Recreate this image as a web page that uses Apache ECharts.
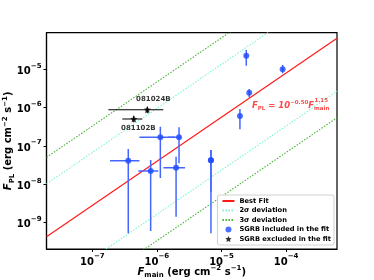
<!DOCTYPE html>
<html><head><meta charset="utf-8">
<script src="https://cdn.jsdelivr.net/npm/echarts@6/dist/echarts.min.js"></script>
<style>html,body{margin:0;padding:0;background:#fff}#c{width:374px;height:280px}</style>
</head><body><div id="c"></div>
<script>
// axis ranges
const xMin = 1.95e-8, xMax = 6.15e-4;
const yMin = 2.06e-10, yMax = 9.0e-5;
// fit: log F_PL = a + b log F_main, with 2σ / 3σ offsets (dex)
const fitA = -0.50, fitB = 1.15;
const off2s = 1.38, off3s = 2.07;

// SGRBs included in the fit
const incX   = [3.6e-7, 8.0e-7, 1.13e-6, 2.2e-6, 1.98e-6, 6.87e-6, 6.87e-6, 2.42e-5, 8.85e-5, 2.69e-5, 1.93e-5];
const incY   = [4.14e-8, 2.23e-8, 1.69e-7, 1.69e-7, 2.71e-8, 4.24e-8, 4.24e-8, 2.25e-5, 1.0e-5, 2.45e-6, 6.05e-7];
const incXLo = [1.88e-7, 5.15e-7, 5.35e-7, 1.49e-6, 1.26e-6, 6.6e-6, 6.7e-6, 2.33e-5, 8.5e-5, 2.6e-5, 1.88e-5];
const incXHi = [5.35e-7, 1.05e-6, 1.9e-6, 2.36e-6, 2.72e-6, 7.15e-6, 7.05e-6, 2.52e-5, 9.2e-5, 2.8e-5, 1.98e-5];
const incYLo = [5.3e-10, 6.1e-10, 1.47e-8, 3.54e-8, 1.43e-9, 5.3e-10, 6.4e-9, 1.23e-5, 7.87e-6, 1.86e-6, 2.72e-7];
const incYHi = [8.35e-8, 4.3e-8, 3.19e-7, 3.08e-7, 5.26e-8, 7.87e-8, 7.87e-8, 3.18e-5, 1.29e-5, 3.06e-6, 9.2e-7];

// SGRBs excluded from the fit
const exNames = ['081024B', '081102B'];
const exX   = [7.1e-7, 4.38e-7];
const exY   = [8.85e-7, 5.06e-7];
const exXLo = [1.77e-7, 2.91e-7];
const exXHi = [1.256e-6, 5.94e-7];
const exYLo = [7.1e-7, 4.15e-7];
const exYHi = [1.06e-6, 6.17e-7];
// label anchor positions (data coords)
const exLabX = [8.8e-7, 5.15e-7];
const exLabY = [1.68e-6, 2.9e-7];
const annX = [2.96e-5, 2.75e-4], annY = [1.1e-6, 1.25e-6];
const annText = ['{i|F}{sub|PL}{i| = 10}{sup|−0.50}{i|F}{sub|main}', '{sup|1.15}'];

const legendNames = ['Best Fit', '2σ deviation', '3σ deviation', 'SGRB included in the fit', 'SGRB excluded in the fit'];

function fitLine(off) {
  const f = x => Math.pow(10, fitA + off) * Math.pow(x, fitB);
  return [[xMin, f(xMin)], [xMax, f(xMax)]];
}
function errData(X, Y, XL, XH, YL, YH) {
  return X.map((x, i) => [x, Y[i], XL[i], XH[i], YL[i], YH[i]]);
}
function errRender(color, w) {
  return function (params, api) {
    const x = api.value(0), y = api.value(1);
    const a = api.coord([api.value(2), y]), b = api.coord([api.value(3), y]);
    const c = api.coord([x, api.value(4)]), d = api.coord([x, api.value(5)]);
    return { type: 'group', children: [
      { type: 'line', shape: { x1: a[0], y1: a[1], x2: b[0], y2: b[1] }, style: { stroke: color, lineWidth: w } },
      { type: 'line', shape: { x1: c[0], y1: c[1], x2: d[0], y2: d[1] }, style: { stroke: color, lineWidth: w } }
    ]};
  };
}
function powLabel(v) {
  const e = Math.log10(v), r = Math.round(e);
  if (Math.abs(e - r) > 0.01) return '';
  return '{b|10}{s|' + (r < 0 ? '−' : '') + Math.abs(r) + '}';
}
const FONT = 'DejaVu Sans';
const tickRich = {
  b: { fontSize: 10, fontWeight: 'bold', fontFamily: FONT, color: '#000', lineHeight: 14, verticalAlign: 'bottom' },
  s: { fontSize: 7, fontWeight: 'bold', fontFamily: FONT, color: '#000', lineHeight: 14, verticalAlign: 'top' }
};
const nameRich = {
  i: { fontSize: 10, fontWeight: 'bold', fontStyle: 'italic', fontFamily: FONT, color: '#000', lineHeight: 14, verticalAlign: 'middle' },
  sub: { fontSize: 7, fontWeight: 'bold', fontFamily: FONT, color: '#000', lineHeight: 14, verticalAlign: 'bottom' },
  sup: { fontSize: 7, fontWeight: 'bold', fontFamily: FONT, color: '#000', lineHeight: 14, verticalAlign: 'top' },
  n: { fontSize: 10, fontWeight: 'bold', fontFamily: FONT, color: '#000', lineHeight: 14, verticalAlign: 'middle' }
};
const RED = '#ff1a1a';
const annRich = {
  i: { fontSize: 8.5, fontWeight: 'bold', fontStyle: 'italic', fontFamily: FONT, color: RED, lineHeight: 12, verticalAlign: 'middle' },
  sub: { fontSize: 5.5, fontWeight: 'bold', fontFamily: FONT, color: RED, lineHeight: 12, verticalAlign: 'bottom' },
  sup: { fontSize: 5.5, fontWeight: 'bold', fontFamily: FONT, color: RED, lineHeight: 12, verticalAlign: 'top' }
};
const star = 'path://M0,-10 L2.9,-4 L9.5,-3.1 L4.7,1.5 L5.9,8.1 L0,5 L-5.9,8.1 L-4.7,1.5 L-9.5,-3.1 L-2.9,-4 Z';

const chart = echarts.init(document.getElementById('c'), null, { renderer: 'canvas' });
const dotted = (name, color, off) => ({
  name, type: 'line', data: fitLine(off), symbol: 'none', clip: true, silent: true,
  lineStyle: { color, width: 1.1, type: [1.5, 1.5] }, itemStyle: { color }, z: 2
});
const lineLegend = n => ({ name: n, itemStyle: { opacity: 0 } });
chart.setOption({
  animation: false,
  grid: { left: 46.5, right: 37, top: 32.7, bottom: 31, containLabel: false, outerBoundsMode: 'none',
    show: true, borderColor: '#000', borderWidth: 1.2, backgroundColor: 'transparent' },
  xAxis: {
    type: 'log', logBase: 10, min: xMin, max: xMax,
    name: '{i|F}{sub|main}{n| (erg cm}{sup|−2}{n| s}{sup|−1}{n|)}',
    nameLocation: 'middle', nameGap: 16, nameMoveOverlap: false,
    nameTextStyle: { rich: nameRich },
    axisLine: { onZero: false, lineStyle: { color: '#000', width: 1.2 } },
    axisTick: { show: true, length: 3, lineStyle: { color: '#000', width: 1 } },
    axisLabel: { formatter: powLabel, rich: tickRich, margin: 4, showMinLabel: false, showMaxLabel: false },
    splitLine: { show: false }
  },
  yAxis: {
    type: 'log', logBase: 10, min: yMin, max: yMax,
    name: '{i|F}{sub|PL}{n| (erg cm}{sup|−2}{n| s}{sup|−1}{n|)}',
    nameLocation: 'middle', nameGap: 31, nameRotate: 90, nameMoveOverlap: false,
    nameTextStyle: { rich: nameRich },
    axisLine: { onZero: false, lineStyle: { color: '#000', width: 1.2 } },
    axisTick: { show: true, length: 3, lineStyle: { color: '#000', width: 1 } },
    axisLabel: { formatter: powLabel, rich: tickRich, margin: 5, showMinLabel: false, showMaxLabel: false },
    splitLine: { show: false }
  },
  legend: {
    data: [lineLegend(legendNames[0]), lineLegend(legendNames[1]), lineLegend(legendNames[2]), legendNames[3], legendNames[4]],
    orient: 'vertical', right: 40, bottom: 35,
    itemWidth: 12, itemHeight: 6, itemGap: 1.5,
    backgroundColor: '#fff', borderColor: '#d0d0d0', borderWidth: 1, borderRadius: 2,
    padding: [2, 3, 2, 4],
    textStyle: { fontSize: 6.7, fontWeight: 'bold', fontFamily: FONT, color: '#000', lineHeight: 8 }
  },
  series: [
    { name: 'Best Fit', type: 'line', data: fitLine(0), symbol: 'none', clip: true, silent: true,
      lineStyle: { color: RED, width: 1.2 }, itemStyle: { color: RED }, z: 3 },
    dotted('2σ deviation', '#7cf5d2', off2s),
    dotted('2σ deviation', '#7cf5d2', -off2s),
    dotted('3σ deviation', '#45b532', off3s),
    dotted('3σ deviation', '#45b532', -off3s),
    { name: 'incErr', type: 'custom', renderItem: errRender('#4466ff', 1.5), clip: true, silent: true,
      encode: { x: 0, y: 1 }, data: errData(incX, incY, incXLo, incXHi, incYLo, incYHi), z: 4 },
    { name: 'SGRB included in the fit', type: 'scatter', symbol: 'circle', symbolSize: 6, silent: true,
      itemStyle: { color: '#1f4bff' }, data: incX.map((x, i) => [x, incY[i]]), z: 5 },
    { name: 'exErr', type: 'custom', renderItem: errRender('#000', 1.1), clip: true, silent: true,
      encode: { x: 0, y: 1 }, data: errData(exX, exY, exXLo, exXHi, exYLo, exYHi), z: 4 },
    { name: 'SGRB excluded in the fit', type: 'scatter', symbol: star, symbolSize: 7, silent: true,
      itemStyle: { color: '#000' }, data: exX.map((x, i) => [x, exY[i]]), z: 5 },
    { name: 'labels', type: 'scatter', symbolSize: 0, silent: true, z: 6,
      data: exNames.map((n, i) => ({ value: [exLabX[i], exLabY[i]], name: n })),
      label: { show: true, position: 'inside', formatter: p => p.name, fontSize: 7, fontWeight: 'bold', fontFamily: FONT, color: '#000' } },
    { name: 'annot', type: 'scatter', symbolSize: 0, silent: true, z: 6,
      data: annX.map((x, i) => ({ value: [x, annY[i]], name: annText[i] })),
      label: { show: true, position: 'right', distance: 0, formatter: p => p.name, rich: annRich } }
  ]
});
</script></body></html>
